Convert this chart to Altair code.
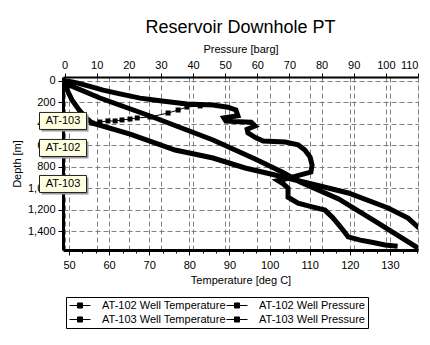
import altair as alt
import pandas as pd

FONT = "Liberation Sans"
TITLE = "Reservoir Downhole PT"
# legend fills column by column
SERIES = ["AT-102 Well Temperature", "AT-103 Well Temperature",
          "AT-102 Well Pressure", "AT-103 Well Pressure"]

# AT-102 Well Temperature [deg C] vs depth [m]
t102_temp = [49.3, 50.8, 52.2, 55.2, 58.5, 62.7, 67.7, 72.7, 79.4, 85.9, 89.6, 91.6,
             92.1, 88.6, 89.1, 95.4, 96.4, 94.4, 94.6, 96.6, 98.4, 103.9, 107.1, 108.8,
             110.1, 110.6, 110.3, 106.8, 103.9, 102.1, 103.4, 104.6, 104.6, 107.1, 110.6,
             113.8, 115.6, 117.1, 118.3, 119.6, 122.6, 125.5, 128.8, 131.3]
t102_depth = [0, 10, 20, 50, 85, 120, 160, 185, 215, 225, 245, 270,
              325, 345, 375, 385, 420, 450, 485, 530, 560, 570, 595, 645,
              710, 785, 850, 885, 915, 930, 960, 1000, 1085, 1140, 1175,
              1205, 1270, 1335, 1390, 1455, 1485, 1505, 1530, 1540]

# AT-103 Well Temperature [deg C] vs depth [m] (sparse readings)
t103_temp = [55.7, 57.7, 59.7, 61.5, 63.2, 65.2, 67.0, 70.2, 74.7, 77.2, 79.4, 82.7]
t103_depth = [392, 383, 373, 373, 364, 355, 345, 336, 299, 271, 243, 233]

# AT-102 Well Pressure [barg] vs depth [m]
p102_pres = [0.0, 11.0, 26.6, 46.2, 59.3, 67.7, 73.3, 85.3, 96.6, 110.0, 113.7]
p102_depth = [20, 159, 327, 551, 728, 849, 943, 1101, 1307, 1559, 1624]

# AT-103 Well Pressure [barg] vs depth [m]
p103_pres = [0.3, 0.8, 2.3, 4.5, 6.7, 8.5, 20.4, 34.4, 46.2, 56.2, 65.5, 71.8,
             79.5, 88.3, 100.7, 106.9, 110.0, 112.5]
p103_depth = [15, 84, 177, 271, 345, 392, 495, 644, 719, 812, 877, 924,
              980, 1045, 1185, 1279, 1363, 1420]

# callouts on the depth axis
callout_labels = ["AT-103", "AT-102", "AT-103"]
callout_depths = [373, 625, 961]
callout_tip_depths = [457, 709, 1045]

# axis ticks
temp_ticks = [50 + i * 10 / 3 for i in range(27)]
pres_ticks = list(range(0, 111, 10))
depth_ticks = list(range(0, 1401, 200))

TEMP_DOMAIN = [48.5, 137]
PRES_DOMAIN = [-0.5, 110]
DEPTH_DOMAIN = [-37, 1577]


def frame(series, xs, ys, xname):
    return pd.DataFrame({"series": series, xname: xs, "depth": ys,
                         "order": list(range(len(xs)))})


t102_df = frame("AT-102 Well Temperature", t102_temp, t102_depth, "temp")
t103_df = frame("AT-103 Well Temperature", t103_temp, t103_depth, "temp")
p102_df = frame("AT-102 Well Pressure", p102_pres, p102_depth, "pres")
p103_df = frame("AT-103 Well Pressure", p103_pres, p103_depth, "pres")
press_df = pd.concat([p102_df, p103_df])
callout_df = pd.DataFrame({"label": callout_labels, "depth": callout_depths,
                           "temp": [TEMP_DOMAIN[0]] * 3})
tip_df = pd.DataFrame({"depth": callout_tip_depths, "temp": [TEMP_DOMAIN[0]] * 3})

grid = dict(grid=True, gridColor="#808080", gridDash=[5, 3], gridWidth=1)
axis_text = dict(labelFont=FONT, labelFontSize=11, labelColor="black",
                 titleFont=FONT, titleFontSize=11, titleFontWeight="normal",
                 titleColor="black", tickColor="black", domainColor="black")

MAJOR = "abs(datum.value - round(datum.value / 10) * 10) < 0.01"
x_temp = alt.X("temp:Q", scale=alt.Scale(domain=TEMP_DOMAIN, nice=False, zero=False),
               axis=alt.Axis(orient="bottom", values=temp_ticks,
                             labelExpr=f"{MAJOR} ? format(datum.value, '.0f') : ''",
                             title="Temperature [deg C]",
                             tickSize={"condition": {"test": MAJOR, "value": 5}, "value": 3},
                             gridOpacity={"condition": {"test": MAJOR, "value": 1}, "value": 0},
                             labelPadding=4, titlePadding=4, domainWidth=3,
                             **grid, **axis_text))
x_pres = alt.X("pres:Q", scale=alt.Scale(domain=PRES_DOMAIN, nice=False, zero=False),
               axis=alt.Axis(orient="top", values=pres_ticks,
                             title="Pressure [barg]", tickSize=4, labelPadding=3,
                             titlePadding=5, domainWidth=2, **grid, **axis_text))
y_depth = alt.Y("depth:Q", scale=alt.Scale(domain=DEPTH_DOMAIN, reverse=True, nice=False, zero=False),
                axis=alt.Axis(values=depth_ticks, format=",.0f", title="Depth [m]",
                              tickSize=5, labelPadding=3, titlePadding=5, domainWidth=3,
                              **grid, **axis_text))

LEGEND_SYMBOL = "M-1,0H1M-0.24,-0.24H0.24V0.24H-0.24Z"
color = alt.Color("series:N",
                  scale=alt.Scale(domain=SERIES, range=["black"] * 4),
                  legend=alt.Legend(title=None, orient="none", legendX=3, legendY=220,
                                    columns=2, symbolType=LEGEND_SYMBOL, symbolSize=441,
                                    symbolStrokeWidth=1, symbolFillColor="black",
                                    symbolStrokeColor="black", labelFont=FONT,
                                    labelFontSize=11, labelColor="black", labelLimit=300,
                                    labelOffset=11, columnPadding=0, rowPadding=2,
                                    clipHeight=11, padding=3, strokeColor="black",
                                    fillColor="white", cornerRadius=0))

t102_line = alt.Chart(t102_df).mark_line(strokeWidth=5, clip=True, strokeJoin="miter",
                                         strokeCap="square").encode(
    x=x_temp, y=y_depth, color=color, order="order:Q")
t103_line = alt.Chart(t103_df).mark_line(strokeWidth=1, clip=True).encode(
    x=x_temp, y=y_depth, color=color, order="order:Q")
t103_pts = alt.Chart(t103_df).mark_point(shape="square", filled=True, size=25, opacity=1,
                                         clip=True).encode(
    x=x_temp, y=y_depth, color=color)

BOX = "M-1,-0.362H1V0.362H-1Z"
BOX_SIZE = 2209
box_shadow = alt.Chart(callout_df).mark_point(shape=BOX, size=BOX_SIZE, filled=True, opacity=1,
                                              color="#9a9a9a", xOffset=2, yOffset=2).encode(
    x=x_temp, y=y_depth)
box = alt.Chart(callout_df).mark_point(shape=BOX, size=BOX_SIZE, filled=True, opacity=1,
                                       fill="#ffffe1", stroke="#202020", strokeWidth=1).encode(
    x=x_temp, y=y_depth)
box_text = alt.Chart(callout_df).mark_text(font=FONT, fontSize=11, color="black",
                                           baseline="middle", align="center").encode(
    x=x_temp, y=y_depth, text="label:N")
tips = alt.Chart(tip_df).mark_point(shape="triangle-down", size=18, filled=True, opacity=1,
                                    color="#7a1010", xOffset=3).encode(x=x_temp, y=y_depth)

temp_group = alt.layer(t102_line, t103_line, t103_pts, tips, box_shadow, box, box_text)

press_group = alt.layer(
    alt.Chart(press_df).mark_line(strokeWidth=5, clip=True, strokeJoin="miter",
                                  strokeCap="square").encode(
        x=x_pres, y=y_depth, color=color, detail="series:N", order="order:Q")
)

chart = alt.layer(press_group, temp_group).resolve_scale(x="independent").properties(
    width=355, height=173,
    title=alt.TitleParams(TITLE, font=FONT, fontSize=18, fontWeight="normal",
                          color="black", anchor="middle", offset=6),
    autosize=alt.AutoSizeParams(type="none"),
    padding={"left": 63, "top": 77, "right": 12, "bottom": 95},
).configure_view(stroke="black", strokeWidth=2).configure(background="white")

chart.save("out.html", embed_options={"renderer": "svg", "actions": False})
